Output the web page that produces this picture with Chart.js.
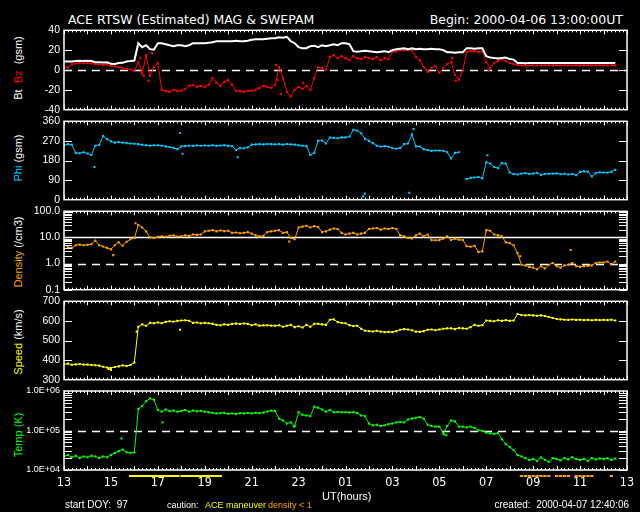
<!DOCTYPE html>
<html>
<head>
<meta charset="utf-8">
<script src="https://cdn.jsdelivr.net/npm/chart.js@4.4.1/dist/chart.umd.min.js"></script>
<style>
  html, body { margin: 0; padding: 0; background: #000; }
  body { width: 640px; height: 512px; position: relative; overflow: hidden; color: #fff; font-family: 'Liberation Sans', Arial, sans-serif; }
  canvas { position: absolute; left: 0; }
  .t { position: absolute; white-space: pre; }
  .ylab { position: absolute; left: 17.5px; white-space: pre; font: 11px/1 'Liberation Sans', Arial, sans-serif; transform: translate(-50%, -50%) rotate(-90deg); }
</style>
</head>
<body>
<div class="t" style="left:68px;top:14px;font:12.5px/1 'DejaVu Sans';">ACE RTSW (Estimated) MAG &amp; SWEPAM</div>
<div class="t" style="right:17px;top:14px;font:12.5px/1 'DejaVu Sans';">Begin: 2000-04-06 13:00:00UT</div>

<div class="ylab" style="top:68px;">Bt  <span style="color:#ff0000">Bz</span>  (gsm)</div>
<div class="ylab" style="top:158px;"><span style="color:#00c8ff">Phi</span> (gsm)</div>
<div class="ylab" style="top:252px;"><span style="color:#ffa000">Density</span> (/cm3)</div>
<div class="ylab" style="top:342px;"><span style="color:#ffff00">Speed</span> (km/s)</div>
<div class="ylab" style="top:435px;color:#00ff00;">Temp (K)</div>

<canvas id="c1" width="640" height="100" style="top:20px"></canvas>
<canvas id="c2" width="640" height="99" style="top:111px"></canvas>
<canvas id="c3" width="640" height="99" style="top:201px"></canvas>
<canvas id="c4" width="640" height="99" style="top:291px"></canvas>
<canvas id="c5" width="640" height="113" style="top:381px"></canvas>

<div class="t" style="left:322px;top:491px;font:11px/1 'Liberation Sans';">UT(hours)</div>
<div class="t" style="left:65px;top:500px;font:10px/1 'Liberation Sans';">start DOY:  97</div>
<div class="t" style="left:167px;top:501px;font:9px/1 'Liberation Sans';">caution:</div>
<div class="t" style="left:205px;top:501px;font:9px/1 'Liberation Sans';color:#ffff00;">ACE maneuver</div>
<div class="t" style="left:268px;top:501px;font:9px/1 'Liberation Sans';color:#ffa000;">density &lt; 1</div>
<div class="t" style="right:11px;top:500px;font:10px/1 'Liberation Sans';">created:  2000-04-07 12:40:06</div>

<script>
// Axis labels (x axis counts hours from 13:00 UT on 2000-04-06)
const hourTicks = [0, 2, 4, 6, 8, 10, 12, 14, 16, 18, 20, 22, 24];
const hourLabels = ['13', '15', '17', '19', '21', '23', '01', '03', '05', '07', '09', '11', '13'];
const bzTicks = [-40, -20, 0, 20, 40];
const phiTicks = [0, 90, 180, 270, 360];
const densityTicks = [0.1, 1, 10, 100];
const speedTicks = [300, 400, 500, 600, 700];
const tempTicks = [1e4, 1e5, 1e6];

// 10-minute samples, one row per hour
const btVals = [
  8.5, 8.5, 8.6, 9.0, 9.2, 9.0,
  9.3, 9.0, 7.8, 7.8, 7.6, 7.8,
  6.2, 6.0, 7.0, 7.2, 8.6, 9.0,
  9.5, 27, 23, 25, 21, 20.5,
  27, 27, 26, 25, 24, 25,
  25, 24, 25, 27, 27, 27,
  27, 27.5, 28, 29, 29, 29,
  29, 29, 29.5, 29, 29, 29.5,
  30.5, 31, 31, 31, 31.5, 32,
  32, 33, 32.5, 33.5, 29, 27,
  23, 22, 22, 24, 24.5, 23,
  25, 24, 25, 26, 25, 27,
  27, 26, 19, 18.5, 19, 19.5,
  19, 18.5, 18, 18.5, 19, 18,
  20, 21, 21.5, 22, 21, 22,
  21, 21.5, 21, 21, 21.5, 21,
  21, 20, 18, 18, 17.5, 18,
  18, 22, 22, 21.5, 22, 22,
  14, 12.5, 12, 11.5, 12, 12.5,
  11, 10.5, 7, 7, 6.8, 7,
  7, 7, 7, 7, 7, 7,
  7, 7, 7, 7, 7, 7,
  7, 7, 7, 7, 7, 7,
  7, 7, 7, 7, null, null,
  null
];
const bzVals = [
  3.0, 2.5, 5.8, 6.5, 7.0, 6.8,
  7.2, 6.5, 6.0, 5.5, 5.0, 5.6,
  4.0, 3.5, 2.8, 2.0, 1.0, 0.5,
  -1.0, 8, -4, 15, -6, 3,
  7, -20, -21, -22, -20, -21,
  -21, -19, -16, -15, -17, -16,
  -17, -15, -8, -13, -16, -12,
  -10, -15, -21, -21, -22, -21,
  -21, -20, -18, -16, -17, -18,
  -15, 3, -8, -22, -27, -20,
  -17, -19, -16, -20, -8, 3,
  2, 0, 13, 15, 12, 14,
  12, 10, 14, 12, 11, 13,
  12, 11, 13, 10, 12, 11,
  18, 19, 20, 20, 20, 20,
  13, 10, 3, -2, 2, 4,
  -3, 2, 6, 8, -5, -10,
  0, 18, 19, 19, 18, 19,
  8, 2, 7, 9, 11, 9,
  7, 6, 5, 4.5, 4.7, 4.5,
  4.7, 4.5, 4.7, 4.8, 4.6, 4.7,
  4.7, 4.6, 4.8, 4.7, 4.5, 4.7,
  4.6, 4.7, 4.7, 4.8, 4.7, 4.6,
  4.7, 4.7, 4.6, 4.7, null, null,
  null
];
const phiVals = [
  250, 255, 253, 215, 213, 218,
  212, 205, 248, 252, 292, 278,
  268, 262, 265, 262, 260, 258,
  257, 255, 252, 250, 248, 250,
  250, 248, 245, 242, 238, 232,
  245, 246, 248, 247, 249, 248,
  249, 248, 250, 247, 249, 250,
  247, 246, 228, 238, 236, 240,
  253, 254, 255, 254, 256, 255,
  254, 255, 253, 256, 254, 253,
  250, 248, 246, 205, 215, 270,
  272, 258, 285, 284, 282, 286,
  286, 290, 321, 318, 305, 280,
  270, 260, 248, 244, 246, 243,
  236, 234, 238, 255, 258, 300,
  245, 244, 232, 228, 224, 226,
  226, 225, 218, 190, 215, 218,
  null, 95, 100, 102, 104, 98,
  172, 166, 150, 145, 168, 166,
  125, 118, 116, 120, 122, 118,
  120, 124, 114, 118, 119, 120,
  121, 117, 119, 116, 118, 112,
  128, 130, 129, 107, 122, 126,
  125, 124, 128, 137, null, null,
  null
];
const densVals = [
  5.5, 4.2, 4.0, 5.0, 5.3, 5.0,
  5.2, 5.5, 7.6, 5.0, 4.5, 4.0,
  3.5, 5.0, 6.5, 4.8, 6.8, 8.5,
  9.5, 30, 24, 17, 10, 9.5,
  10.5, 11, 10.5, 11.5, 12, 10.8,
  11, 12, 11.5, 13, 12.5, 13,
  17, 18, 19, 17, 18.5, 17.5,
  18, 15, 15.5, 14.5, 15, 16,
  14, 12, 11, 11.5, 16, 17,
  18, 19, 15, 16, 9.5, 8.5,
  24, 26, 28, 24, 27, 25,
  16, 17, 20, 22, 21, 15,
  13, 14, 15, 13, 14, 15,
  21, 22, 23, 20, 22, 21,
  23, 21, 12, 11, 9.5, 9.2,
  12, 14, 11, 13, 7.9, 7.8,
  7.9, 9, 11, 8, 9, 8.2,
  8, 4.6, 4.4, 4.8, 2.8, 2.9,
  19, 18, 13, 12, 11, 6.5,
  6, 5, 2.5, 0.9, 0.85, 0.75,
  0.7, 0.6, 0.8, 0.65, 0.9, 1.05,
  0.8, 0.7, 0.85, 0.9, 1.05, 0.8,
  0.75, 0.8, 0.82, 0.85, 1.05, 1.1,
  1.1, 1.2, 0.95, 1.2, null, null,
  null
];
const speedVals = [
  378, 382, 376, 378, 380, 377,
  377, 375, 374, 372, 366, 362,
  360, 365, 368, 373, 370, 375,
  388, 570, 582, 575, 590, 588,
  592, 588, 595, 598, 596, 600,
  602, 603, 601, 590, 592, 588,
  590, 588, 585, 580, 578, 582,
  580, 585, 586, 584, 587, 585,
  578, 582, 576, 577, 578, 576,
  575, 578, 570, 575, 580, 568,
  573, 566, 580, 570, 585, 585,
  582, 580, 606, 608, 594, 590,
  588, 578, 574, 575, 560, 550,
  548, 546, 550, 545, 543, 544,
  543, 548, 555, 558, 556, 552,
  545, 544, 548, 555, 556, 552,
  556, 560, 562, 562, 558, 564,
  562, 560, 568, 580, 575, 578,
  602, 600, 598, 603, 600, 604,
  600, 602, 635, 630, 628, 630,
  628, 626, 628, 625, 620, 615,
  610, 608, 606, 605, 607, 605,
  606, 604, 605, 603, 605, 604,
  605, 604, 606, 602, null, null,
  null
];
const tempVals = [
  22000, 24000, 21000, 23000, 20000, 22000,
  21000, 23000, 22000, 20000, 22000, 21000,
  24000, 27000, 30000, 33000, 28000, 27000,
  28000, 350000, 420000, 550000, 650000, 600000,
  330000, 300000, 340000, 310000, 320000, 300000,
  310000, 330000, 300000, 320000, 305000, 315000,
  300000, 290000, 280000, 270000, 275000, 280000,
  265000, 270000, 260000, 275000, 270000, 280000,
  270000, 280000, 275000, 285000, 300000, 320000,
  310000, 200000, 180000, 150000, 160000, 130000,
  290000, 250000, 240000, 230000, 400000, 380000,
  340000, 300000, 330000, 290000, 295000, 290000,
  290000, 285000, 290000, 280000, 240000, 230000,
  150000, 135000, 140000, 130000, 135000, 145000,
  150000, 160000, 165000, 160000, 190000, 200000,
  210000, 220000, 200000, 140000, 130000, 125000,
  125000, 85000, 130000, 180000, 170000, 125000,
  125000, 120000, 125000, 115000, 102000, 98000,
  88000, 85000, 82000, 86000, 60000, 45000,
  38000, 32000, 24000, 22000, 20000, 18000,
  19000, 17000, 21000, 18000, 16000, 20000,
  19000, 17500, 20000, 18500, 21000, 19000,
  18000, 19000, 17000, 20000, 18500, 19500,
  19000, 20000, 18000, 19500, null, null,
  null
];

// scattered single readings away from the main trace
const bzOutH = [3.25, 3.4, 3.6, 3.75, 9.05, 9.1, 9.25, 10.2, 15.45, 16.55, 16.7, 18.1];
const bzOutV = [12, -6, -11, 17, 5, -10, -24, -13, 0, 12, -11, 0];
const phiOutH = [1.3, 4.95, 5.05, 7.4, 12.75, 12.82, 14.72, 14.9, 18.05];
const phiOutV = [150, 306, 211, 195, 15, 28, 32, 324, 204];
const densOutH = [2.1, 3.05, 9.6, 19.45, 21.6];
const densOutV = [2.1, 35, 7, 1.9, 3.3];
const speedOutH = [1.9, 2.0, 3.1, 4.95];
const speedOutV = [355, 350, 545, 555];
const tempOutH = [2.45, 4.2, 9.8, 16.2, 16.3];
const tempOutV = [63000, 160000, 125000, 80000, 76000];

// ACE maneuver periods (hours from start)
const maneuverFrom = [2.77, 4.97];
const maneuverTo = [4.93, 6.73];

const hours = [];
for (let i = 0; i < btVals.length; i++) hours.push(i / 6);

const narrow = "'Liberation Sans Narrow', 'DejaVu Sans Condensed', 'Liberation Sans'";

function pts(xs, ys) {
  return xs.map((x, i) => ({ x: x, y: ys[i] }));
}

function trace(vals, color, width, radius) {
  return {
    data: pts(hours, vals),
    borderColor: color,
    backgroundColor: color,
    pointBackgroundColor: color,
    borderWidth: width,
    pointRadius: radius,
    pointStyle: 'rect',
    pointBorderWidth: 0,
    tension: 0,
    spanGaps: false
  };
}

function scatter(xs, ys, color) {
  return {
    data: pts(xs, ys),
    showLine: false,
    pointRadius: 1.5,
    pointStyle: 'rect',
    pointBackgroundColor: color,
    pointBorderWidth: 0
  };
}

function logMinor(lo, hi) {
  let out = [];
  for (let d = lo; d < hi; d *= 10) {
    for (let k = 1; k <= 9; k++) out.push(d * k);
  }
  return out;
}

// box, inward ticks, reference lines, caution bars
const frame = {
  id: 'frame',
  beforeDatasetsDraw(chart, args, o) {
    const { ctx, chartArea: a } = chart;
    const ys = chart.scales.y;
    ctx.save();
    ctx.strokeStyle = '#fff';
    ctx.lineWidth = 1.5;
    (o.refs || []).forEach(r => {
      const y = Math.round(ys.getPixelForValue(r.v)) + 0.5;
      ctx.setLineDash(r.dash);
      ctx.beginPath();
      ctx.moveTo(a.left, y);
      ctx.lineTo(a.right, y);
      ctx.stroke();
    });
    ctx.restore();
  },
  afterDraw(chart, args, o) {
    const { ctx, chartArea: a } = chart;
    const xs = chart.scales.x, ys = chart.scales.y;
    ctx.save();
    ctx.strokeStyle = '#fff';
    ctx.lineWidth = 1.5;
    ctx.strokeRect(a.left, a.top, a.right - a.left, a.bottom - a.top);
    ctx.lineWidth = 1;
    ctx.beginPath();
    for (let m = 0; m <= 144; m++) {
      const x = Math.round(xs.getPixelForValue(m / 6)) + 0.5;
      const len = m % 6 === 0 ? 4 : 2;
      ctx.moveTo(x, a.top); ctx.lineTo(x, a.top + len);
      ctx.moveTo(x, a.bottom); ctx.lineTo(x, a.bottom - len);
    }
    (o.yMarks || []).forEach(v => {
      const y = Math.round(ys.getPixelForValue(v)) + 0.5;
      ctx.moveTo(a.left, y); ctx.lineTo(a.left + 8, y);
      ctx.moveTo(a.right, y); ctx.lineTo(a.right - 8, y);
    });
    ctx.stroke();
    if (o.caution) {
      const y = a.bottom + 6;
      ctx.lineWidth = 2;
      ctx.strokeStyle = '#ffff00';
      ctx.beginPath();
      maneuverFrom.forEach((h, i) => {
        ctx.moveTo(xs.getPixelForValue(h), y);
        ctx.lineTo(xs.getPixelForValue(maneuverTo[i]), y);
      });
      ctx.stroke();
      ctx.strokeStyle = '#ffa000';
      ctx.beginPath();
      densVals.forEach((v, i) => {
        if (v !== null && v < 1) {
          ctx.moveTo(xs.getPixelForValue(hours[i] - 0.07), y);
          ctx.lineTo(xs.getPixelForValue(hours[i] + 0.07), y);
        }
      });
      ctx.stroke();
    }
    ctx.restore();
  }
};

function makePanel(id, cfg) {
  return new Chart(document.getElementById(id), {
    type: 'line',
    data: { datasets: cfg.datasets },
    options: {
      responsive: false,
      animation: false,
      events: [],
      devicePixelRatio: 1,
      layout: { padding: { left: 0, right: 13, top: 10, bottom: cfg.showX ? 0 : 10 } },
      plugins: { legend: { display: false }, tooltip: { enabled: false }, frame: cfg.frame },
      scales: {
        x: {
          type: 'linear', min: 0, max: 24,
          display: !!cfg.showX,
          grid: { display: false, drawTicks: false },
          border: { display: false },
          afterBuildTicks: s => { s.ticks = hourTicks.map(v => ({ value: v })); },
          afterFit: s => { if (cfg.showX) s.height = 24; },
          ticks: {
            color: '#fff', padding: 5, maxRotation: 0, autoSkip: false,
            font: { family: narrow, size: 12.5 },
            callback: (v, i) => hourLabels[i]
          }
        },
        y: {
          type: cfg.yType, min: cfg.min, max: cfg.max,
          grid: { display: false, drawTicks: false },
          border: { display: false },
          afterBuildTicks: s => { s.ticks = cfg.ticks.map(v => ({ value: v })); },
          afterFit: s => { s.width = 64; },
          ticks: {
            color: '#fff', padding: 4, autoSkip: false,
            font: { family: "'Liberation Sans'", size: cfg.tickSize || 10.5 },
            callback: cfg.fmt
          }
        }
      }
    },
    plugins: [frame]
  });
}

makePanel('c1', {
  yType: 'linear', min: -40, max: 40, ticks: bzTicks,
  fmt: v => String(v),
  datasets: [
    trace(btVals, '#ffffff', 2, 0),
    trace(bzVals, '#ff0000', 1, 1.5),
    scatter(bzOutH, bzOutV, '#ff0000')
  ],
  frame: { refs: [{ v: 0, dash: [8, 6] }], yMarks: [20, 0, -20] }
});

makePanel('c2', {
  yType: 'linear', min: 0, max: 360, ticks: phiTicks,
  fmt: v => String(v),
  datasets: [
    trace(phiVals, '#00c8ff', 1, 1.5),
    scatter(phiOutH, phiOutV, '#00c8ff')
  ],
  frame: { yMarks: [90, 180, 270] }
});

makePanel('c3', {
  yType: 'logarithmic', min: 0.1, max: 100, ticks: densityTicks,
  fmt: v => v.toFixed(1),
  datasets: [
    trace(densVals, '#ffa000', 1, 1.5),
    scatter(densOutH, densOutV, '#ffa000')
  ],
  frame: { refs: [{ v: 10, dash: [] }, { v: 1, dash: [8, 6] }], yMarks: logMinor(0.1, 100) }
});

makePanel('c4', {
  yType: 'linear', min: 300, max: 700, ticks: speedTicks,
  fmt: v => String(v),
  datasets: [
    trace(speedVals, '#ffff00', 1, 1.5),
    scatter(speedOutH, speedOutV, '#ffff00')
  ],
  frame: { yMarks: [400, 500, 600] }
});

makePanel('c5', {
  yType: 'logarithmic', min: 1e4, max: 1e6, ticks: tempTicks,
  fmt: v => '1.0E+0' + Math.round(Math.log10(v)),
  tickSize: 9,
  showX: true,
  datasets: [
    trace(tempVals, '#00ff00', 1, 1.5),
    scatter(tempOutH, tempOutV, '#00ff00')
  ],
  frame: { refs: [{ v: 1e5, dash: [8, 6] }], yMarks: logMinor(1e4, 1e6), caution: true }
});
</script>
</body>
</html>
